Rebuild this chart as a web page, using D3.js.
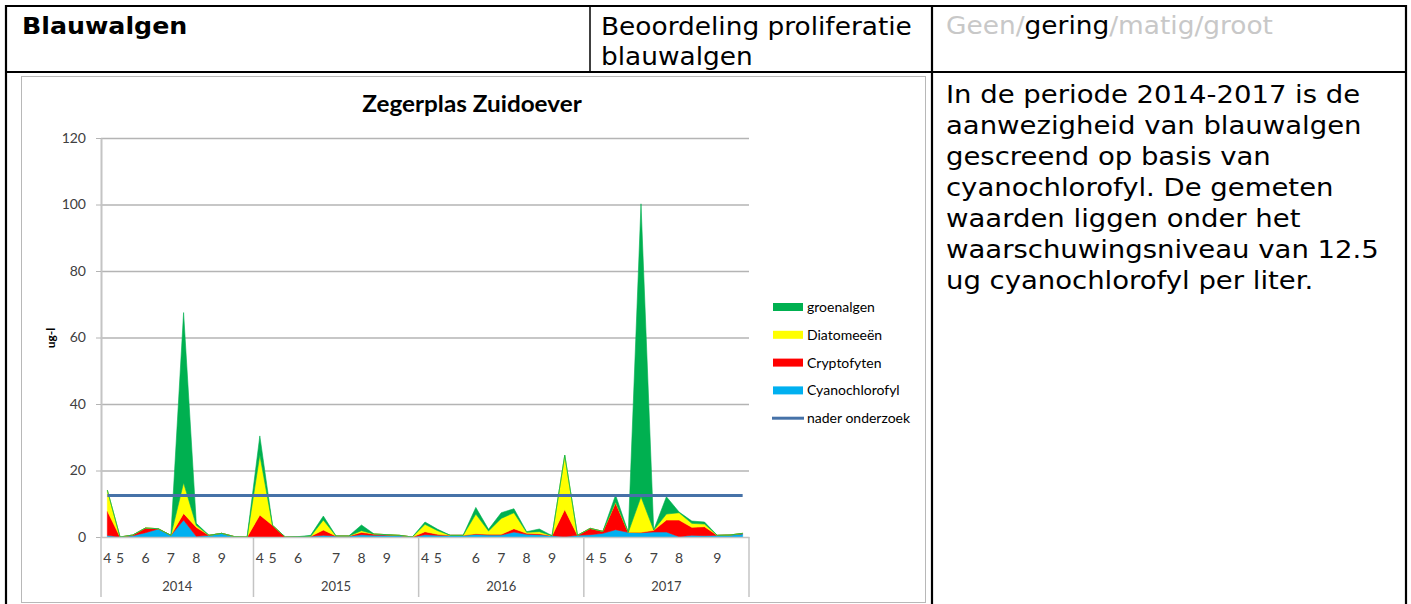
<!DOCTYPE html>
<html>
<head>
<meta charset="utf-8">
<script src="https://cdn.jsdelivr.net/npm/d3@7"></script>
<style>
  body { margin: 0; background: #fff; }
  text { font-family: "DejaVu Sans", Verdana, sans-serif; }
  .chart text { font-family: Lato, "Open Sans", sans-serif; }
</style>
</head>
<body>
<svg id="page" width="1411" height="604"></svg>
<script>
// ---- data ----
var years = ["2014", "2015", "2016", "2017"];
var monthLabels2014 = ["4","5","","6","","7","","8","","9","",""];
var monthLabels2015 = ["4","5","","6","","","7","","8","","9","",""];
var monthLabels2016 = ["4","5","","","6","","7","","8","","9","",""];
var monthLabels2017 = ["4","5","","6","","7","","8","","","9","",""];

var cyanochlorofyl = [0.5,0,0.4,1.3,2.4,0.5,5.1,0.2,0.5,1.1,0.1,0,
                      0,0,0,0,0.2,0.5,0.3,0.3,0.7,0.5,0.5,0.4,0,
                      0.7,0.5,0.5,0.5,0.8,0.6,0.6,1.5,0.8,0.7,0.4,0.1,0.5,
                      0.7,1.1,2.2,1.4,1.3,1.5,1.5,0.1,0.5,0.4,0.5,0.6,0.9];
var cryptofyten    = [7.3,0,0.2,1.4,0.1,0,2.0,2.7,0,0,0,0,
                      6.6,3.5,0,0,0,1.6,0,0,0.7,0.4,0.2,0.1,0,
                      0.9,0.3,0,0,0.2,0.2,0.2,1.0,0.3,0.3,0,8.2,0,
                      1.9,0.6,8.1,0,0.1,0.5,3.6,5.0,2.4,2.7,0,0,0.2];
var diatomeeen     = [6.3,0,0,0,0,0,9.2,0.6,0,0,0,0,
                      18.1,0,0,0,0,3.0,0,0,0.5,0,0,0,0,
                      2.2,1.1,0,0,5.9,1.0,4.8,4.8,0.3,0.6,0,16.3,0,
                      0,0,0.2,0,10.7,0.1,1.8,2.2,1.2,0.8,0,0,0];
var groenalgen     = [0,0,0,0,0,0,51.2,0.6,0,0,0,0,
                      5.7,0,0,0.1,0.3,1.2,0,0,1.7,0,0,0,0,
                      0.7,0.4,0,0,2.0,0.5,1.7,1.2,0.2,0.8,0,0,0,
                      0,0,2.1,0,88.1,0,5.2,0.2,0.7,0.6,0,0,0];
var naderOnderzoek = 12.5;
var yTicks = [0, 20, 40, 60, 80, 100, 120];

var seriesNames = ["groenalgen", "Diatomeeën", "Cryptofyten", "Cyanochlorofyl"];
var seriesColors = {groenalgen: "#00b050", "Diatomeeën": "#ffff00", Cryptofyten: "#ff0000", Cyanochlorofyl: "#00b0f0"};
var lineColor = "#4672a8";

var paragraph = ["In de periode 2014-2017 is de",
                 "aanwezigheid van blauwalgen",
                 "gescreend op basis van",
                 "cyanochlorofyl. De gemeten",
                 "waarden liggen onder het",
                 "waarschuwingsniveau van 12.5",
                 "ug cyanochlorofyl per liter."];

// ---- build rows ----
var monthLabels = monthLabels2014.concat(monthLabels2015, monthLabels2016, monthLabels2017);
var yearSizes = [monthLabels2014.length, monthLabels2015.length, monthLabels2016.length, monthLabels2017.length];
var rows = monthLabels.map(function(m, i) {
  return {i: i, month: m, Cyanochlorofyl: cyanochlorofyl[i], Cryptofyten: cryptofyten[i],
          "Diatomeeën": diatomeeen[i], groenalgen: groenalgen[i]};
});

var svg = d3.select("#page");
svg.append("rect").attr("width", 1411).attr("height", 604).attr("fill", "#fff");

// text stretched a little sideways, like the screenshot
function sText(g, x, y, str, size, weight) {
  return g.append("text")
    .attr("transform", "translate(" + x + "," + y + ") scale(1.1,1)")
    .style("font-size", size + "px")
    .style("font-weight", weight || "normal")
    .attr("fill", "#000")
    .text(str);
}

// ---- table ----
var table = svg.append("g");
sText(table, 22, 34, "Blauwalgen", 23, "bold");
sText(table, 601, 35, "Beoordeling proliferatie", 24);
sText(table, 601, 65, "blauwalgen", 24);
var rating = table.append("text")
  .attr("transform", "translate(946,34) scale(1.1,1)")
  .style("font-size", "24px");
rating.append("tspan").attr("fill", "#c8c8c8").text("Geen/");
rating.append("tspan").attr("fill", "#000").text("gering");
rating.append("tspan").attr("fill", "#c8c8c8").text("/matig/groot");

paragraph.forEach(function(line, i) {
  sText(table, 946, 102.5 + i * 31.1, line, 25);
});

var borders = [
  [5, 6, 1407, 6], [5, 72, 1407, 72],
  [6, 5, 6, 604], [1406, 5, 1406, 604],
  [590, 6, 590, 72], [932, 6, 932, 604]
];
table.selectAll("line.border").data(borders).enter().append("line")
  .attr("x1", function(d) { return d[0]; }).attr("y1", function(d) { return d[1]; })
  .attr("x2", function(d) { return d[2]; }).attr("y2", function(d) { return d[3]; })
  .attr("stroke", "#000").attr("stroke-width", function(d) { return d[0] === 590 ? 1.5 : 2.2; });

// ---- chart ----
var chart = svg.append("g").attr("class", "chart");
chart.append("rect").attr("x", 21.5).attr("y", 76.5).attr("width", 904).attr("height", 526)
  .attr("fill", "#fff").attr("stroke", "#b8b8b8").attr("stroke-width", 1);

var plotLeft = 101, plotRight = 749, plotTop = 138, plotBottom = 537;
var x = d3.scaleBand().domain(rows.map(function(d) { return d.i; })).range([plotLeft, plotRight]);
var y = d3.scaleLinear().domain([0, 120]).range([plotBottom, plotTop]);
var xc = function(i) { return x(i) + x.bandwidth() / 2; };

chart.append("text").attr("transform", "translate(472,112) scale(1.08,1)").attr("text-anchor", "middle")
  .style("font-size", "22.5px").style("font-weight", "bold").attr("fill", "#000")
  .text("Zegerplas Zuidoever");

// gridlines
chart.append("g")
  .attr("transform", "translate(" + plotLeft + ",0)")
  .call(d3.axisLeft(y).tickValues(yTicks.slice(1)).tickSize(-(plotRight - plotLeft)).tickFormat(""))
  .call(function(g) {
    g.select(".domain").remove();
    g.selectAll("line").attr("stroke", "#b4b4b4").attr("stroke-width", 1.3);
  });

// y axis
chart.append("g")
  .attr("transform", "translate(" + plotLeft + ",0)")
  .call(d3.axisLeft(y).tickValues(yTicks).tickSize(5).tickSizeOuter(0).tickPadding(10))
  .call(function(g) {
    g.select(".domain").attr("stroke", "#c4c4c4").attr("stroke-width", 2);
    g.selectAll("line").attr("stroke", "#b4b4b4");
    g.selectAll("text").style("font-size", "14px").style("font-family", "Lato, sans-serif").attr("fill", "#404040");
  });

chart.append("text")
  .attr("transform", "translate(55,338) rotate(-90)")
  .attr("text-anchor", "middle")
  .style("font-size", "12px").style("font-weight", "bold").attr("fill", "#000")
  .text("ug-l");

// stacked areas
var stack = d3.stack().keys(["Cyanochlorofyl", "Cryptofyten", "Diatomeeën", "groenalgen"]);
var layers = stack(rows);
var area = d3.area()
  .x(function(d) { return xc(d.data.i); })
  .y0(function(d) { return y(d[0]); })
  .y1(function(d) { return y(d[1]); });

chart.append("g").selectAll("path").data(layers).enter().append("path")
  .attr("d", area)
  .attr("fill", function(d) { return seriesColors[d.key]; })
  .attr("stroke", function(d) { return seriesColors[d.key]; })
  .attr("stroke-width", 0.6);

// nader onderzoek line
var line = d3.line().x(function(d) { return xc(d.i); }).y(function() { return y(naderOnderzoek); });
chart.append("path").datum(rows).attr("d", line)
  .attr("fill", "none").attr("stroke", lineColor).attr("stroke-width", 3);

// x axis: months and years
chart.append("g")
  .attr("transform", "translate(0," + plotBottom + ")")
  .call(d3.axisBottom(x).tickSize(0).tickPadding(16).tickFormat(function(i) { return monthLabels[i]; }))
  .call(function(g) {
    g.select(".domain").attr("stroke", "#c4c4c4").attr("stroke-width", 1.5);
    g.selectAll("text").style("font-size", "14px").style("font-family", "Lato, sans-serif").attr("fill", "#404040");
  });

var start = 0, bounds = [0];
yearSizes.forEach(function(n) { start += n; bounds.push(start); });
chart.append("g").selectAll("line").data(bounds).enter().append("line")
  .attr("x1", function(b) { return b < rows.length ? x(b) : plotRight; })
  .attr("x2", function(b) { return b < rows.length ? x(b) : plotRight; })
  .attr("y1", plotBottom).attr("y2", 597)
  .attr("stroke", "#c4c4c4").attr("stroke-width", 1.5);

chart.append("g").selectAll("text").data(years).enter().append("text")
  .attr("x", function(d, k) {
    var a = x(bounds[k]), b = bounds[k + 1] < rows.length ? x(bounds[k + 1]) : plotRight;
    return (a + b) / 2;
  })
  .attr("y", 591).attr("text-anchor", "middle")
  .style("font-size", "13px").attr("fill", "#404040")
  .text(function(d) { return d; });

// legend
var legend = chart.append("g").attr("transform", "translate(773,307)");
var items = seriesNames.concat(["nader onderzoek"]);
var li = legend.selectAll("g").data(items).enter().append("g")
  .attr("transform", function(d, k) { return "translate(0," + (k * 27.8) + ")"; });
li.filter(function(d) { return d !== "nader onderzoek"; }).append("rect")
  .attr("x", 0).attr("y", -4).attr("width", 30).attr("height", 8)
  .attr("fill", function(d) { return seriesColors[d]; });
li.filter(function(d) { return d === "nader onderzoek"; }).append("line")
  .attr("x1", -1).attr("x2", 31).attr("stroke", lineColor).attr("stroke-width", 3);
li.append("text").attr("x", 34).attr("dy", "0.35em")
  .style("font-size", "14px").attr("fill", "#000")
  .text(function(d) { return d; });
</script>
</body>
</html>
